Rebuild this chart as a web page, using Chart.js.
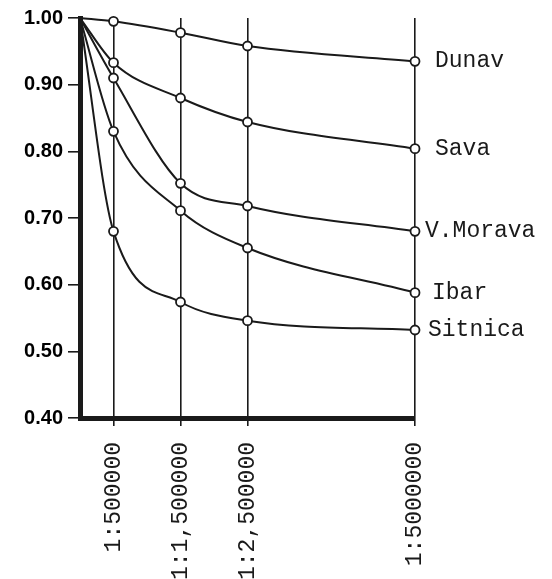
<!DOCTYPE html>
<html>
<head>
<meta charset="utf-8">
<script src="https://cdn.jsdelivr.net/npm/chart.js@4/dist/chart.umd.min.js"></script>
<style>
  html, body { margin: 0; padding: 0; background: #fff; }
  #wrap { width: 552px; height: 579px; }
</style>
</head>
<body>
<div id="wrap"><canvas id="chart" width="552" height="579"></canvas></div>
<script>
// scale denominators (1:N) and their tick labels
const scales = [0, 500000, 1500000, 2500000, 5000000];
const scaleLabels = { 500000: '1:500000', 1500000: '1:1,500000', 2500000: '1:2,500000', 5000000: '1:5000000' };
const yTicks = [0.4, 0.5, 0.6, 0.7, 0.8, 0.9, 1.0];

const rivers = ['Dunav', 'Sava', 'V.Morava', 'Ibar', 'Sitnica'];
const dunav    = [1.00, 0.995, 0.978, 0.958, 0.935];
const sava     = [1.00, 0.933, 0.880, 0.844, 0.804];
const vmorava  = [1.00, 0.910, 0.752, 0.718, 0.680];
const ibar     = [1.00, 0.830, 0.711, 0.655, 0.588];
const sitnica  = [1.00, 0.680, 0.574, 0.546, 0.532];

const series = [dunav, sava, vmorava, ibar, sitnica];
const labelDx = [20, 20, 10, 17, 13];

const ink = '#1a1a1a';

const datasets = series.map(function(vals, i) {
    return {
        label: rivers[i],
        data: vals.map(function(v, j) { return { x: scales[j], y: v }; }),
        borderColor: ink,
        borderWidth: 2,
        backgroundColor: '#fff',
        pointBackgroundColor: '#fff',
        pointBorderColor: ink,
        pointBorderWidth: 1.8,
        pointRadius: vals.map(function(v, j) { return j === 0 ? 0 : 4.5; }),
        cubicInterpolationMode: 'monotone',
        clip: false,
        labelDx: labelDx[i]
    };
});

// river names at the end of each curve
const endLabels = {
    id: 'endLabels',
    afterDatasetsDraw(chart) {
        const ctx = chart.ctx;
        ctx.save();
        ctx.font = '23px "Liberation Mono"';
        ctx.fillStyle = ink;
        ctx.textAlign = 'left';
        ctx.textBaseline = 'middle';
        chart.data.datasets.forEach(function(ds, i) {
            const pts = chart.getDatasetMeta(i).data;
            const last = pts[pts.length - 1];
            ctx.fillText(ds.label, last.x + ds.labelDx, last.y);
        });
        ctx.restore();
    }
};

new Chart(document.getElementById('chart'), {
    type: 'line',
    data: { datasets: datasets },
    plugins: [endLabels],
    options: {
        responsive: false,
        animation: false,
        layout: { padding: { top: 18, right: 137, left: 0, bottom: 0 } },
        plugins: { legend: { display: false }, tooltip: { enabled: false } },
        scales: {
            x: {
                type: 'linear',
                min: 0,
                max: 5000000,
                afterBuildTicks: function(axis) {
                    axis.ticks = scales.slice(1).map(function(v) { return { value: v }; });
                },
                afterFit: function(axis) { axis.height = 161; },
                border: { color: ink, width: 5 },
                grid: { color: ink, lineWidth: 1.6, tickLength: 8, drawTicks: true },
                ticks: {
                    autoSkip: false,
                    maxRotation: 90,
                    minRotation: 90,
                    padding: 16,
                    color: ink,
                    font: { family: 'Liberation Mono', size: 23 },
                    callback: function(v) { return scaleLabels[v] || ''; }
                }
            },
            y: {
                min: 0.4,
                max: 1.0,
                afterBuildTicks: function(axis) {
                    axis.ticks = yTicks.map(function(v) { return { value: v }; });
                },
                afterFit: function(axis) { axis.width = 80; },
                border: { color: ink, width: 5 },
                grid: { drawOnChartArea: false, color: ink, lineWidth: 1.6, tickLength: 12 },
                ticks: {
                    padding: 5,
                    color: '#000',
                    font: { family: 'Liberation Sans', size: 20, weight: 'bold' },
                    callback: function(v) { return v.toFixed(2); }
                }
            }
        }
    }
});
</script>
</body>
</html>
